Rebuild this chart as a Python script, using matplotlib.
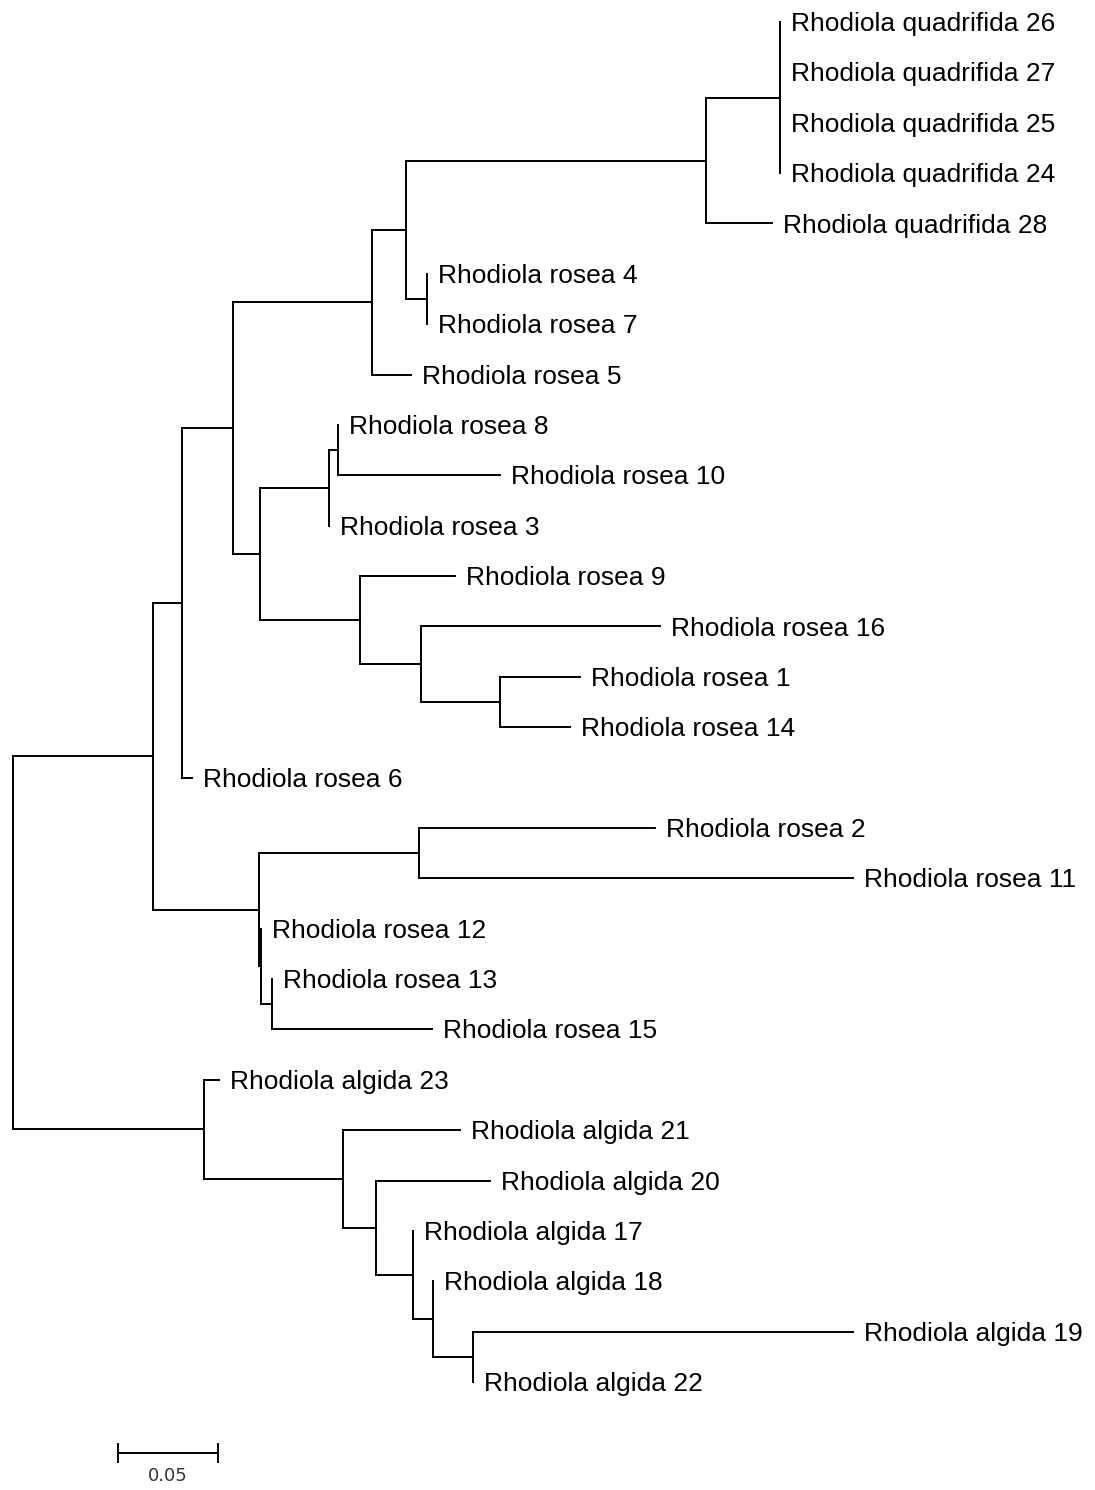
#!/usr/bin/env python3
# -*- coding: utf-8 -*-
"""Neighbour-joining style tree of Rhodiola samples (rectangular cladogram)."""

import matplotlib
matplotlib.use("Agg")
import matplotlib.pyplot as plt

# ----------------------------------------------------------------------
# Tree edges, listed depth-first: child order inside a parent = list order
child = [
    "A", "P",
    "B", "K",
    "C", "Rhodiola rosea 6",
    "D", "E",
    "F", "Rhodiola rosea 5",
    "Q", "N47",
    "Q4", "Rhodiola quadrifida 28",
    "Rhodiola quadrifida 26", "Rhodiola quadrifida 27",
    "Rhodiola quadrifida 25", "Rhodiola quadrifida 24",
    "Rhodiola rosea 4", "Rhodiola rosea 7",
    "G", "H",
    "N810", "Rhodiola rosea 3",
    "Rhodiola rosea 8", "Rhodiola rosea 10",
    "Rhodiola rosea 9", "I",
    "Rhodiola rosea 16", "J",
    "Rhodiola rosea 1", "Rhodiola rosea 14",
    "L", "M",
    "Rhodiola rosea 2", "Rhodiola rosea 11",
    "Rhodiola rosea 12", "N",
    "Rhodiola rosea 13", "Rhodiola rosea 15",
    "Rhodiola algida 23", "R",
    "Rhodiola algida 21", "S",
    "Rhodiola algida 20", "T",
    "Rhodiola algida 17", "U",
    "Rhodiola algida 18", "V",
    "Rhodiola algida 19", "Rhodiola algida 22",
]
parent = [
    "root", "root",
    "A", "A",
    "B", "B",
    "C", "C",
    "D", "D",
    "F", "F",
    "Q", "Q",
    "Q4", "Q4",
    "Q4", "Q4",
    "N47", "N47",
    "E", "E",
    "G", "G",
    "N810", "N810",
    "H", "H",
    "I", "I",
    "J", "J",
    "K", "K",
    "L", "L",
    "M", "M",
    "N", "N",
    "P", "P",
    "R", "R",
    "S", "S",
    "T", "T",
    "U", "U",
    "V", "V",
]
branch_len = [
    0.0700, 0.0955,
    0.0145, 0.0530,
    0.0255, 0.0050,
    0.0695, 0.0135,
    0.0170, 0.0195,
    0.1500, 0.0105,
    0.0370, 0.0330,
    0.0, 0.0,
    0.0, 0.0,
    0.0, 0.0,
    0.0345, 0.0500,
    0.0045, 0.0,
    0.0, 0.0810,
    0.0475, 0.0305,
    0.1195, 0.0395,
    0.0400, 0.0350,
    0.0800, 0.0010,
    0.1180, 0.2170,
    0.0, 0.0055,
    0.0, 0.0800,
    0.0075, 0.0695,
    0.0585, 0.0165,
    0.0570, 0.0185,
    0.0, 0.0100,
    0.0, 0.0200,
    0.1900, 0.0,
]

scale_len = 0.05
scale_label = "0.05"

# ----------------------------------------------------------------------
kids = {}
for c, p, bl in zip(child, parent, branch_len):
    kids.setdefault(p, []).append((c, bl))

xpos, ypos = {}, {}
leaf_counter = [0]


def layout(node, x):
    """Depth-first placement: leaves get consecutive rows, nodes sit mid-way."""
    xpos[node] = x
    if node not in kids:
        ypos[node] = leaf_counter[0]
        leaf_counter[0] += 1
        return
    for c, bl in kids[node]:
        layout(c, x + bl)
    ys = [ypos[c] for c, _ in kids[node]]
    ypos[node] = (ys[0] + ys[-1]) / 2.0


layout("root", 0.0)
n_leaves = leaf_counter[0]

# ----------------------------------------------------------------------
W, H = 1095, 1490
fig = plt.figure(figsize=(W / 100, H / 100), dpi=100)
ax = fig.add_axes([0, 0, 1, 1])
ax.set_axis_off()

px_per_unit = 2000.0
x0_px = 13.0
row_px = 50.37
top_px = 22.0
ax.set_xlim(-x0_px / px_per_unit, (W - x0_px) / px_per_unit)
ax.set_ylim((H - top_px) / row_px, -top_px / row_px)

lw = 1.4
kw = dict(color="black", lw=lw, solid_capstyle="projecting")

for node, subs in kids.items():
    ys = [ypos[c] for c, _ in subs]
    ax.plot([xpos[node], xpos[node]], [min(ys), max(ys)], **kw)
    for c, bl in subs:
        if bl > 0:
            ax.plot([xpos[node], xpos[c]], [ypos[c], ypos[c]], **kw)
        if c not in kids:
            ax.annotate(c, (xpos[c], ypos[c]), xytext=(8, -1.5),
                        textcoords="offset points", ha="left", va="center",
                        fontsize=19, family="Liberation Sans")

# ----- scale bar ------------------------------------------------------
sb_x = 0.0525
sb_y = n_leaves - 1 + 1.41
tick = 0.17
ax.plot([sb_x, sb_x + scale_len], [sb_y, sb_y], color="black", lw=lw)
ax.plot([sb_x, sb_x], [sb_y - tick, sb_y + tick], color="black", lw=lw)
ax.plot([sb_x + scale_len, sb_x + scale_len], [sb_y - tick, sb_y + tick],
        color="black", lw=lw)
ax.text(sb_x + scale_len / 2, sb_y + 0.27, scale_label, ha="center", va="top",
        fontsize=13, color="#333333", family="DejaVu Sans")

fig.savefig("out.png", dpi=100, facecolor="white")
